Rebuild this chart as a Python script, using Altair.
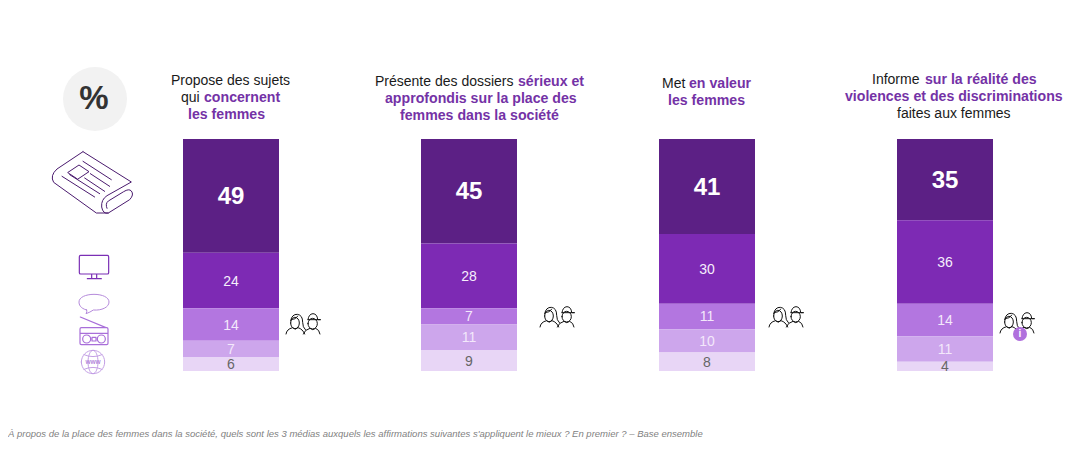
import re
import altair as alt
import pandas as pd

# ---- chart data ----
media = ["Presse", "Télévision", "Réseaux sociaux", "Radio", "Internet"]
col_index = [0, 1, 2, 3]
presse = [49, 45, 41, 35]
television = [24, 28, 30, 36]
reseaux = [14, 7, 11, 14]
radio = [7, 11, 10, 11]
internet = [6, 9, 8, 4]
series = [presse, television, reseaux, radio, internet]

line_runs = [
    [("Propose des sujets", 0)],
    [("qui ", 0), ("concernent", 1)],
    [("les femmes", 1)],
    [("Présente des dossiers ", 0), ("sérieux et", 1)],
    [("approfondis sur la place des", 1)],
    [("femmes dans la société", 1)],
    [("Met ", 0), ("en valeur", 1)],
    [("les femmes", 1)],
    [("Informe ", 0), ("sur la réalité des", 1)],
    [("violences et des discriminations", 1)],
    [("faites aux femmes", 0)],
]
footnote = ("À propos de la place des femmes dans la société, quels sont les 3 médias auxquels "
            "les affirmations suivantes s'appliquent le mieux ? En premier ?  – Base ensemble")

# ---- layout / style ----
OX, OY = 8, 8
W, H = 1069, 434
fills = ["#5C2085", "#7D2AB4", "#B376E0", "#CDA6EC", "#E8D6F6"]
label_colors = ["#FFFFFF", "#F6EEFC", "#F3E8FB", "#F3E8FB", "#666666"]
label_sizes = [24, 14, 14, 14, 14]
label_weights = ["bold", "normal", "normal", "normal", "normal"]
DARK, PURPLE = "#1A1A1A", "#7432A6"
line_anchor = [
    (171, 80.5), (181, 97.5), (188, 114.5),
    (375, 81.5), (385, 98.5), (400, 115.5),
    (662, 83.5), (668, 100.5),
    (872, 79.5), (845, 96.5), (897, 113.5),
]
bold_starts = {1: 204, 3: 518, 6: 689, 8: 925}

rows = []
for c in col_index:
    top = 100
    for m, vals in zip(media, series):
        v = vals[c]
        rows.append(dict(col=c, media=m, value=v, y0=top - v, y1=top, mid=top - v / 2))
        top -= v
df = pd.DataFrame(rows)

x_scale = alt.Scale(domain=[0, 3], range=[231 - OX, 945 - OX], padding=0, nice=False)
y_scale = alt.Scale(domain=[0, 100], range=[371 - OY, 139 - OY], padding=0, nice=False)
X = alt.X("col:Q", scale=x_scale, axis=None)

one = pd.DataFrame({"a": [0]})
layers = []


def at(x, y):
    return dict(x=alt.value(x - OX), y=alt.value(y - OY))


def put_text(text, x, y, **kw):
    layers.append(alt.Chart(one).mark_text(text=text, align=kw.pop("align", "left"),
                                           baseline="middle", font="Liberation Sans", **kw).encode(**at(x, y)))


# bars
layers.append(
    alt.Chart(df).mark_bar(size=96, stroke=None).encode(
        x=X,
        y=alt.Y("y0:Q", scale=y_scale, axis=None),
        y2="y1:Q",
        color=alt.Color("media:N", scale=alt.Scale(domain=media, range=fills), legend=None),
    )
)
# value labels
for i, m in enumerate(media):
    layers.append(
        alt.Chart(df[df.media == m]).mark_text(
            font="Liberation Sans", fontSize=label_sizes[i], fontWeight=label_weights[i],
            color=label_colors[i], baseline="middle", align="center", dy=1,
        ).encode(x=X, y=alt.Y("mid:Q", scale=y_scale, axis=None), text="value:Q")
    )

# column titles
for i, (runs, (x, y)) in enumerate(zip(line_runs, line_anchor)):
    for j, (t, b) in enumerate(runs):
        rx = bold_starts[i] if (j == 1) else x
        put_text(t, rx, y, fontSize=14.15 if b else 14,
                 fontWeight="bold" if b else "normal", color=PURPLE if b else DARK)

# footnote
put_text(footnote, 8, 434, fontSize=9.53, fontStyle="italic", color="#7F7F7F")

# % badge
layers.append(alt.Chart(one).mark_point(shape="circle", filled=True, size=4096, color="#F2F2F2", opacity=1)
              .encode(**at(95, 99)))
put_text("%", 94, 99, fontSize=33, fontWeight="bold", color="#333333", align="center")


# ---- icons: vector outlines drawn as custom point shapes ----
def ell(cx, cy, rx, ry):
    k = 0.5523
    return (f"M{cx-rx},{cy} C{cx-rx},{cy-k*ry} {cx-k*rx},{cy-ry} {cx},{cy-ry} "
            f"C{cx+k*rx},{cy-ry} {cx+rx},{cy-k*ry} {cx+rx},{cy} "
            f"C{cx+rx},{cy+k*ry} {cx+k*rx},{cy+ry} {cx},{cy+ry} "
            f"C{cx-k*rx},{cy+ry} {cx-rx},{cy+k*ry} {cx-rx},{cy} Z ")


def icon(path, zcx, zcy, px, py, color, sw=1.0, half=60):
    """path is drawn at 3x scale around (zcx, zcy); placed with its centre at page pixel (px, py)."""
    nums = iter(range(10**6))

    def conv(m):
        n = next(nums)
        v = float(m.group(0))
        v = (v - (zcx if n % 2 == 0 else zcy)) / 3.0 / half
        return f"{v:.4f}"

    shape = re.sub(r"-?\d+\.?\d*", conv, path)
    layers.append(alt.Chart(one).mark_point(shape=shape, size=(2 * half) ** 2, filled=False,
                                            stroke=color, strokeWidth=sw, opacity=1,
                                            strokeJoin="round", strokeCap="round").encode(**at(px, py)))


newspaper = (
    "M160,276 L305,367 L232,408 Q214,420 216,442 Q220,464 236,460 L300,420 Q314,405 305,394 "
    "Q298,386 282,396 L236,424 Q226,432 232,446 "
    "M160,276 L82,328 Q60,348 72,368 L200,460 L236,460 "
    "M115,338 L148,316 L178,336 L145,358 Z "
    "M160,305 L245,360 M182,342 L240,380 M165,355 L225,395 M120,345 L210,402 M97,350 L195,412 "
)
icon(newspaper, 187, 370, 92, 183, "#4A1A6E", 1.0)

tv = ("M152,587 L232,587 Q236,587 236,591 L236,639 Q236,643 232,643 L152,643 Q148,643 148,639 "
      "L148,591 Q148,587 152,587 Z M185,643 L185,656 M200,643 L200,656 M172,657 L214,657 ")
icon(tv, 192, 622, 94, 267, "#7B2FB5", 1.2)

bubble = ("M170,750 C150,745 147,733 147,726 C147,712 167,703 192,703 C217,703 237,712 237,726 "
          "C237,742 215,752 190,750 Q180,757 168,761 Q172,756 170,750 Z")
icon(bubble, 192, 732, 94, 304, "#B58ADB", 1.0)

radio = ("M151,772 L228,804 M150,808 L150,851 Q150,855 154,855 L230,855 Q234,855 234,851 L234,808 "
         "Q234,804 230,804 L154,804 Q150,804 150,808 Z M150,821 L234,821 "
         + ell(170, 838, 12, 12) + ell(214, 838, 12, 12)
         + "M186,833 L198,833 L198,844 L186,844 Z")
icon(radio, 192, 814, 94, 331, "#A96FD9", 1.2)

globe = (ell(190, 905, 35, 35) + ell(190, 905, 15, 35)
         + "M163,883 Q190,895 217,883 M163,927 Q190,915 217,927 ")
icon(globe, 190, 905, 93, 362, "#C39FE5", 1.0)
put_text("www", 93, 362, fontSize=6.5, fontWeight="bold", color="#B58ADB", align="center")

people = (
    ell(795, 792, 13, 17) + "M782,785 Q786,765 802,766 Q818,768 818,790 Q818,805 826,812 "
    "M784,782 Q796,782 803,772 M768,825 Q770,810 788,806 Q796,815 804,806 Q818,810 824,825 "
    + ell(848, 794, 14, 16) + "M834,782 Q836,765 849,764 Q862,765 863,782 L872,782 L834,782 "
    "M820,825 Q824,812 840,808 Q848,816 857,808 Q868,812 870,825"
)
for px, py in [(303, 324), (557, 317), (786, 317), (1017, 323)]:
    icon(people, 819, 795, px, py, "#111111", 1.0)

# badge on the last group
layers.append(alt.Chart(one).mark_point(shape="circle", filled=True, size=196, color="#B070DD", opacity=1)
              .encode(**at(1020, 334)))
put_text("i", 1020, 334, fontSize=10, fontWeight="bold", color="#FFFFFF", align="center")

chart = (
    alt.layer(*layers)
    .properties(width=W, height=H, padding=0, autosize=alt.AutoSizeParams(type="none"), background="white")
    .configure_view(stroke=None)
)
chart.save("out.html", embed_options={"renderer": "svg", "actions": False})
